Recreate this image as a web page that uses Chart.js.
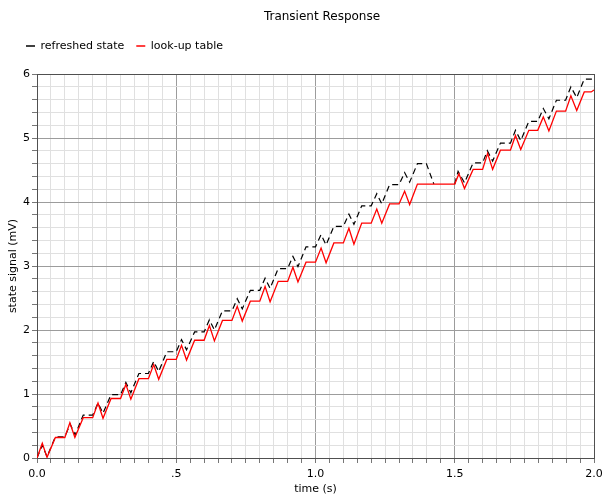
<!DOCTYPE html>
<html>
<head>
<meta charset="utf-8">
<title>Transient Response</title>
<script src="https://cdn.jsdelivr.net/npm/chart.js@4.4.1/dist/chart.umd.min.js"></script>
<style>
    html, body { margin: 0; padding: 0; background: #fff; }
    #wrap { width: 604px; height: 494px; }
</style>
</head>
<body>
<div id="wrap"><canvas id="chart" width="604" height="494"></canvas></div>
<script>
// corner points (time in s, signal in mV)
const lutTime = [0, 0.019, 0.036, 0.066, 0.1, 0.118, 0.136, 0.166, 0.2, 0.219, 0.237, 0.266, 0.3,
    0.319, 0.337, 0.366, 0.4, 0.419, 0.437, 0.466, 0.5, 0.519, 0.537, 0.566, 0.6, 0.619, 0.637, 0.666, 0.7,
    0.719, 0.737, 0.766, 0.8, 0.819, 0.837, 0.866, 0.9, 0.919, 0.937, 0.966, 1.0, 1.02, 1.038, 1.066, 1.1,
    1.12, 1.138, 1.166, 1.2, 1.22, 1.238, 1.266, 1.3, 1.32, 1.338, 1.366, 1.5, 1.515, 1.535, 1.566, 1.6,
    1.618, 1.636, 1.664, 1.7, 1.718, 1.737, 1.766, 1.798, 1.818, 1.838, 1.865, 1.898, 1.917, 1.938, 1.965,
    1.99, 2.0];
const lutValue = [0, 0.23, 0.01, 0.32, 0.32, 0.55, 0.32, 0.63, 0.63, 0.86, 0.62, 0.93, 0.93,
    1.15, 0.92, 1.24, 1.24, 1.46, 1.23, 1.54, 1.54, 1.76, 1.53, 1.84, 1.84, 2.07, 1.83, 2.15, 2.15,
    2.37, 2.14, 2.45, 2.45, 2.68, 2.44, 2.76, 2.76, 2.98, 2.75, 3.06, 3.06, 3.28, 3.05, 3.36, 3.36,
    3.59, 3.34, 3.67, 3.67, 3.89, 3.67, 3.97, 3.97, 4.17, 3.96, 4.28, 4.28, 4.44, 4.21, 4.51, 4.51,
    4.76, 4.51, 4.81, 4.81, 5.04, 4.82, 5.12, 5.12, 5.33, 5.11, 5.42, 5.42, 5.66, 5.43, 5.72,
    5.72, 5.75];

// refreshed state: drops onto the look-up table after 1.4 s (hidden under it), so broken there
const refTime = [0, 0.019, 0.036, 0.066, 0.1, 0.119, 0.137, 0.166, 0.2, 0.219, 0.237, 0.266, 0.3,
    0.319, 0.337, 0.366, 0.4, 0.419, 0.437, 0.466, 0.5, 0.519, 0.537, 0.566, 0.6, 0.619, 0.637, 0.666, 0.7,
    0.719, 0.737, 0.766, 0.8, 0.819, 0.837, 0.866, 0.9, 0.919, 0.937, 0.966, 1.0, 1.02, 1.038, 1.066, 1.1,
    1.12, 1.138, 1.166, 1.2, 1.22, 1.238, 1.266, 1.3, 1.32, 1.338, 1.366, 1.398, 1.425, 1.46, 1.5,
    1.512, 1.535, 1.566, 1.6, 1.617, 1.636, 1.664, 1.7, 1.718, 1.737, 1.766, 1.798, 1.818, 1.838, 1.865,
    1.898, 1.917, 1.938, 1.965, 2.0];
const refValue = [0, 0.2, 0.02, 0.33, 0.33, 0.53, 0.36, 0.67, 0.67, 0.86, 0.70, 0.99, 0.99,
    1.18, 1.02, 1.32, 1.32, 1.51, 1.35, 1.66, 1.66, 1.85, 1.69, 1.97, 1.97, 2.16, 2.00, 2.30, 2.30,
    2.49, 2.33, 2.62, 2.62, 2.81, 2.65, 2.96, 2.96, 3.15, 2.99, 3.30, 3.30, 3.49, 3.33, 3.62, 3.62,
    3.81, 3.65, 3.94, 3.94, 4.13, 3.97, 4.27, 4.27, 4.46, 4.31, 4.60, 4.60, 4.28, null, 4.28,
    4.48, 4.30, 4.61, 4.61, 4.80, 4.64, 4.92, 4.92, 5.12, 4.96, 5.26, 5.26, 5.46, 5.30, 5.59,
    5.59, 5.80, 5.63, 5.92, 5.92];

const xTickLabels = ["0.0", ".5", "1.0", "1.5", "2.0"];
const yTickLabels = ["0", "1", "2", "3", "4", "5", "6"];

const FONT = "'DejaVu Sans', sans-serif";
const MAJOR = "#9c9c9c";
const MINOR = "#e0e0e0";

const onStep = (v, step) => Math.abs(v / step - Math.round(v / step)) < 1e-6;
const toPoints = (xs, ys) => xs.map((x, i) => ({ x, y: ys[i] }));

// dark frame round the plot; legend and title nudged right like the original
const framePlugin = {
    id: "frame",
    afterLayout(chart) {
        chart.legend.left += 14;
        chart.legend.right += 14;
        chart.titleBlock.left += 25;
        chart.titleBlock.right += 25;
    },
    beforeDatasetsDraw(chart) {
        const { ctx, chartArea: a } = chart;
        const l = Math.round(a.left - 0.5) + 0.5, r = Math.round(a.right - 0.5) + 0.5;
        const t = Math.round(a.top - 0.5) + 0.5, b = Math.round(a.bottom - 0.5) + 0.5;
        ctx.save();
        ctx.strokeStyle = "#505050";
        ctx.lineWidth = 1;
        ctx.strokeRect(l, t, r - l, b - t);
        ctx.restore();
    }
};

new Chart(document.getElementById("chart"), {
    type: "line",
    data: {
        datasets: [{
            label: "refreshed state",
            data: toPoints(refTime, refValue),
            borderColor: "#000",
            borderWidth: 1.2,
            borderDash: [6, 4],
            pointRadius: 0,
            tension: 0,
            spanGaps: false,
            order: 1
        },
        {
            label: "look-up table",
            data: toPoints(lutTime, lutValue),
            borderColor: "#ff0000",
            borderWidth: 1.3,
            pointRadius: 0,
            tension: 0,
            order: 0
        }]
    },
    options: {
        responsive: false,
        animation: false,
        devicePixelRatio: 1,
        events: [],
        layout: { padding: { left: 0, right: 10, top: 0, bottom: 0 } },
        plugins: {
            title: {
                display: true,
                text: "Transient Response",
                color: "#000",
                font: { family: FONT, size: 12, weight: "normal" },
                padding: { top: 10, bottom: 4 }
            },
            subtitle: {
                // empty spacer between legend and plot
                display: true,
                text: "",
                weight: 500,
                font: { family: FONT, size: 11, lineHeight: "12.6px" },
                padding: 0
            },
            legend: {
                position: "top",
                align: "start",
                reverse: true,
                labels: {
                    usePointStyle: true,
                    pointStyleWidth: 9,
                    padding: 12,
                    color: "#000",
                    font: { family: FONT, size: 11 },
                    generateLabels(chart) {
                        return Chart.defaults.plugins.legend.labels.generateLabels(chart)
                            .map(item => Object.assign(item, { lineDash: [], pointStyle: "line", lineWidth: 1.5 }));
                    }
                }
            },
            tooltip: { enabled: false }
        },
        scales: {
            x: {
                type: "linear",
                min: 0,
                max: 2,
                afterFit(scale) {
                    scale.height = 36;
                    scale.paddingLeft = 0;
                    scale.paddingRight = 9;
                },
                ticks: {
                    stepSize: 0.05,
                    autoSkip: false,
                    maxRotation: 0,
                    padding: 5,
                    color: "#000",
                    font: { family: FONT, size: 11 },
                    callback: v => onStep(v, 0.5) ? xTickLabels[Math.round(v / 0.5)] : ""
                },
                grid: {
                    color: c => onStep(c.tick.value, 0.5) ? MAJOR : MINOR,
                    tickColor: "#777",
                    tickLength: 5
                },
                border: { color: "#505050" },
                title: {
                    display: true,
                    text: "time (s)",
                    color: "#000",
                    font: { family: FONT, size: 11 },
                    padding: { top: 0, bottom: -1.5 }
                }
            },
            y: {
                min: 0,
                max: 6,
                afterFit(scale) { scale.width = 37; },
                ticks: {
                    stepSize: 0.2,
                    autoSkip: false,
                    padding: 2,
                    color: "#000",
                    font: { family: FONT, size: 11 },
                    callback: v => onStep(v, 1) ? yTickLabels[Math.round(v)] : ""
                },
                grid: {
                    color: c => onStep(c.tick.value, 1) ? MAJOR : MINOR,
                    tickColor: "#777",
                    tickLength: 5
                },
                border: { color: "#505050" },
                title: {
                    display: true,
                    text: "state signal (mV)",
                    color: "#000",
                    font: { family: FONT, size: 11 },
                    padding: { top: 7, bottom: 0 }
                }
            }
        }
    },
    plugins: [framePlugin]
});
</script>
</body>
</html>
